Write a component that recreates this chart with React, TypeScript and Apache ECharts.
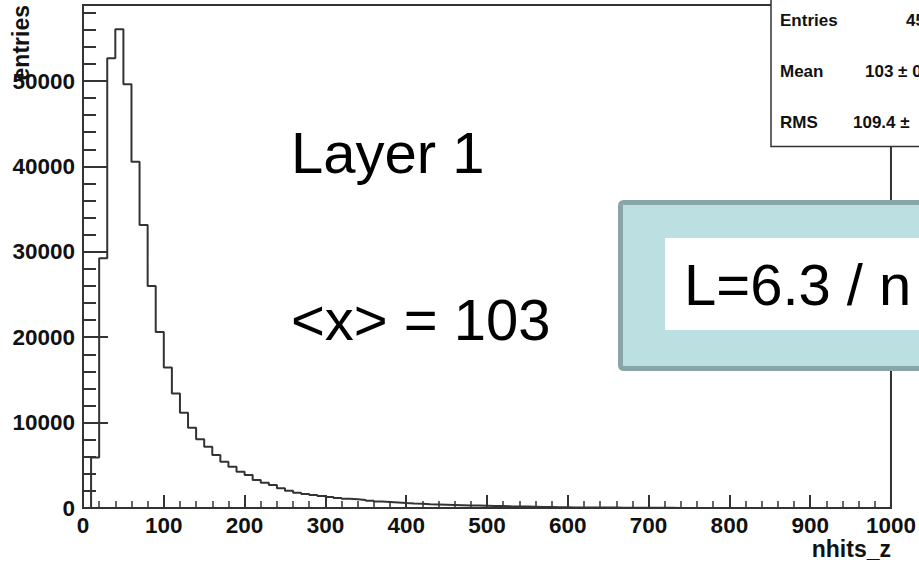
import React, { useEffect, useRef } from "react";
import * as echarts from "echarts";

// Histogram: nhits_z, bin width 10, range 0..1000
const binWidth = 10;
const counts: number[] = [
  0, 5900, 29240, 52660, 56050, 49610, 40550, 33140, 26000, 20610,
  16450, 13400, 11160, 9400, 8040, 7180, 6210, 5420, 4840, 4250,
  3860, 3280, 2960, 2690, 2300, 2030, 1790, 1650, 1520, 1400,
  1280, 1180, 1090, 1020, 940, 850, 760, 700, 640, 580,
  530, 490, 450, 420, 390, 360, 330, 300, 280, 260,
  240, 220, 200, 185, 170, 150, 130, 110, 90, 80,
  70, 65, 60, 55, 50, 45, 40, 35, 30, 28,
  25, 22, 18, 0, 0, 0, 0, 0, 0, 0,
  0, 0, 0, 0, 0, 0, 0, 0, 0, 0,
  0, 0, 0, 0, 0, 0, 0, 0, 0, 0,
];
const xMin = 0;
const xMax = 1000;
const yMax = 58900;

const statLabels = ["Entries", "Mean", "RMS"];
const statValues = ["45", "103 ± 0", "109.4 ±"];
const annotLayer = "Layer 1";
const annotMean = "<x> = 103";
const annotBox = "L=6.3 / n";
const xTitle = "nhits_z";
const yTitle = "entries";

export default function App() {
  const ref = useRef<HTMLDivElement>(null);
  useEffect(() => {
    if (!ref.current) return;
    const chart = echarts.init(ref.current, undefined, { renderer: "svg" });
    const data: number[][] = counts.map((c, i) => [xMin + i * binWidth, c]);
    data.push([xMax, counts[counts.length - 1]]);
    const axisColor = "#333";
    const labelStyle = {
      fontFamily: "Liberation Sans",
      fontWeight: "bold" as const,
      fontSize: 22.5,
      color: "#111",
    };
    chart.setOption({
      animation: false,
      backgroundColor: "#fff",
      grid: {
        left: 83,
        right: 28,
        top: 5,
        bottom: 56,
        show: true,
        borderColor: axisColor,
        borderWidth: 2,
        backgroundColor: "transparent",
      },
      xAxis: [
        {
          type: "value",
          min: xMin,
          max: xMax,
          interval: 100,
          axisLine: { show: true, lineStyle: { color: axisColor, width: 2 } },
          axisTick: { show: true, inside: true, length: 13, lineStyle: { color: axisColor, width: 2 } },
          minorTick: { show: true, splitNumber: 5, length: 7, lineStyle: { color: axisColor, width: 1.5 } },
          splitLine: { show: false },
          minorSplitLine: { show: false },
          axisLabel: { ...labelStyle, margin: 6, formatter: (v: number) => String(v) },
        },
      ],
      yAxis: [
        {
          type: "value",
          min: 0,
          max: yMax,
          interval: 10000,
          axisLine: { show: true, lineStyle: { color: axisColor, width: 2 } },
          axisTick: { show: true, inside: true, length: 25, lineStyle: { color: axisColor, width: 2 } },
          splitLine: { show: false },
          axisLabel: {
            ...labelStyle,
            margin: 8,
            formatter: (v: number) => (v % 10000 === 0 ? String(v) : ""),
          },
        },
        {
          type: "value",
          min: 0,
          max: yMax,
          interval: 2000,
          position: "left",
          axisLine: { show: false },
          axisTick: { show: true, inside: true, length: 13, lineStyle: { color: axisColor, width: 2 } },
          splitLine: { show: false },
          axisLabel: { show: false },
        },
      ],
      series: [
        {
          type: "line",
          step: "end",
          data,
          symbol: "none",
          lineStyle: { color: "#333", width: 2 },
          z: 3,
        },
      ],
      graphic: [
        {
          type: "text",
          x: 20.5,
          y: 5,
          rotation: Math.PI / 2,
          z: 50,
          style: {
            text: yTitle,
            fontFamily: "Liberation Sans",
            fontWeight: "bold",
            fontSize: 23,
            fill: "#111",
            align: "right",
            verticalAlign: "middle",
          },
        },
        {
          type: "text",
          x: 891,
          y: 549,
          z: 50,
          style: {
            text: xTitle,
            fontFamily: "Liberation Sans",
            fontWeight: "bold",
            fontSize: 23,
            fill: "#111",
            align: "right",
            verticalAlign: "middle",
          },
        },
        {
          type: "text",
          x: 291,
          y: 152.7,
          z: 50,
          style: {
            text: annotLayer,
            fontFamily: "Liberation Sans",
            fontSize: 58,
            fill: "#000",
            align: "left",
            verticalAlign: "middle",
          },
        },
        {
          type: "text",
          x: 291,
          y: 319.7,
          z: 50,
          style: {
            text: annotMean,
            fontFamily: "Liberation Sans",
            fontSize: 58,
            fill: "#000",
            align: "left",
            verticalAlign: "middle",
          },
        },
        {
          type: "rect",
          z: 60,
          shape: { x: 620.5, y: 202.5, width: 340, height: 166, r: 3 },
          style: { fill: "#bce0e2", stroke: "#8aa5a7", lineWidth: 5 },
        },
        {
          type: "rect",
          z: 61,
          shape: { x: 665, y: 238, width: 300, height: 92 },
          style: { fill: "#fff" },
        },
        {
          type: "text",
          x: 684,
          y: 284.7,
          z: 62,
          style: {
            text: annotBox,
            fontFamily: "Liberation Sans",
            fontSize: 58,
            fill: "#000",
            align: "left",
            verticalAlign: "middle",
          },
        },
        {
          type: "rect",
          z: 60,
          shape: { x: 771, y: -5, width: 200, height: 151.5 },
          style: { fill: "#fff", stroke: "#333", lineWidth: 1.5 },
        },
        ...statLabels.map((t, i) => ({
          type: "text",
          x: 780,
          y: 20 + i * 51.2,
          z: 62,
          style: {
            text: t,
            fontFamily: "Liberation Sans",
            fontWeight: "bold",
            fontSize: 17,
            fill: "#111",
            align: "left",
            verticalAlign: "middle",
          },
        })),
        ...statValues.map((t, i) => ({
          type: "text",
          x: [906, 865, 853][i],
          y: 20 + i * 51.2,
          z: 62,
          style: {
            text: t,
            fontFamily: "Liberation Sans",
            fontWeight: "bold",
            fontSize: 17,
            fill: "#111",
            align: "left",
            verticalAlign: "middle",
          },
        })),
      ],
    });
    return () => chart.dispose();
  }, []);
  return (
    <div
      ref={ref}
      style={{ position: "fixed", left: 0, top: 0, width: 919, height: 564, background: "#fff" }}
    />
  );
}
